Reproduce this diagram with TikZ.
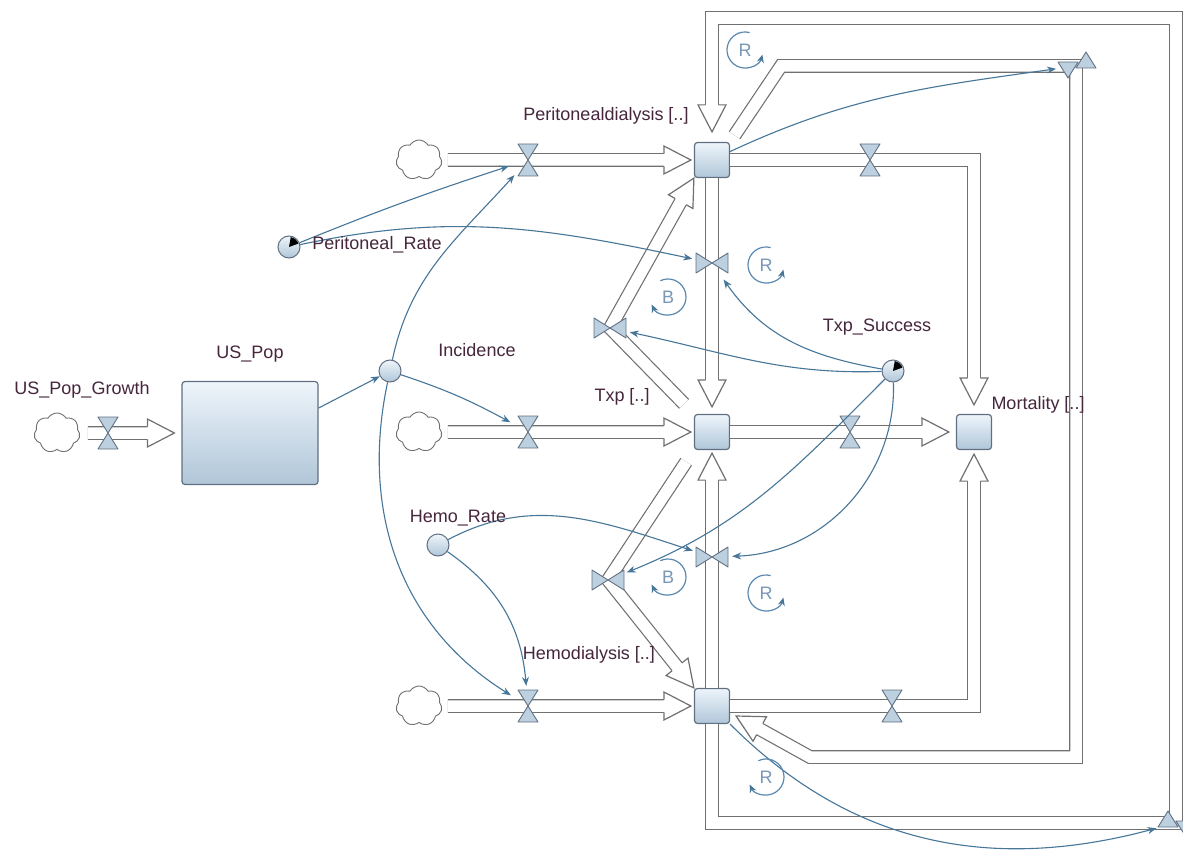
\documentclass[tikz,border=0pt]{standalone}
\usepackage{fontspec}
\setmainfont{Liberation Sans}
\usetikzlibrary{arrows.meta,positioning,shapes.symbols}
\definecolor{pipegray}{RGB}{112,112,112}
\definecolor{linkblue}{RGB}{70,118,152}
\definecolor{labtext}{RGB}{70,38,60}
\definecolor{loopblue}{RGB}{120,150,182}
\definecolor{loopline}{RGB}{90,136,176}
\definecolor{stockedge}{RGB}{96,112,130}
\definecolor{stocktop}{RGB}{238,245,251}
\definecolor{stockbot}{RGB}{176,198,216}
\definecolor{valvefill}{RGB}{188,208,224}
\tikzset{
    %Define style for stocks
    stock/.style={
           rectangle,
           rounded corners=3pt,
           draw=stockedge, line width=1.2pt,
           top color=stocktop, bottom color=stockbot,
           minimum size=35pt, inner sep=0pt},
    %Define style for converters
    aux/.style={
           circle,
           draw=stockedge, line width=1pt,
           top color=stocktop, bottom color=stockbot,
           minimum size=22pt, inner sep=0pt},
    %Define style for clouds
    src/.style={
           cloud, cloud puffs=7, cloud puff arc=120, aspect=1.15,
           draw=pipegray, line width=0.9pt,
           minimum width=46pt, minimum height=40pt, inner sep=0pt},
    %Valve places (links stop at their border)
    valvept/.style={circle, minimum size=40pt, inner sep=0pt},
    % Define pipe style
    pipe/.style={
           draw=pipegray, line width=1.2pt,
           double=white, double distance=11.5pt,
           line join=miter},
    % Define arrow style
    pil/.style={
           draw=linkblue, line width=1.1pt,
           -{Stealth[length=9pt,width=7pt]}},
    lab/.style={text=labtext, font=\fontsize{18}{21}\selectfont, inner sep=0pt},
    looplab/.style={text=loopblue, font=\fontsize{18}{21}\selectfont, inner sep=0pt},
    valvest/.style={draw=stockedge, fill=valvefill, line width=0.9pt, line join=round},
    %Small pictures
    pipehead/.pic={
      \filldraw[draw=pipegray, line width=1.2pt, fill=white, line join=miter]
        (-27pt,6.35pt) -- (-27pt,14pt) -- (0pt,0pt) -- (-27pt,-14pt) -- (-27pt,-6.35pt);},
    valve/.pic={
      \filldraw[valvest] (-10pt,16pt) -- (10pt,16pt) -- (0pt,0pt) -- cycle
                         (-10pt,-16pt) -- (10pt,-16pt) -- (0pt,0pt) -- cycle;},
    cornervalve/.pic={
      \filldraw[valvest] (-18pt,4pt) -- (2pt,4pt) -- (-8pt,-12pt) -- cycle
                         (0pt,-2pt) -- (20pt,-2pt) -- (10pt,14pt) -- cycle;},
    loopccw/.pic={
      \draw[loopline, line width=1.2pt, -{Stealth[length=8pt,width=7pt,color=linkblue]}]
        (75:18pt) arc[start angle=75, end angle=345, radius=18pt];
      \node[looplab] (-t) {#1};},
    loopcw/.pic={
      \draw[loopline, line width=1.2pt, -{Stealth[length=8pt,width=7pt,color=linkblue]}]
        (115:18pt) arc[start angle=115, end angle=-155, radius=18pt];
      \node[looplab] (-t) {#1};}
}

\begin{document}
\begin{tikzpicture}[x=1pt,y=-1pt]
\fill[white] (0,0) rectangle (1183,853);
\useasboundingbox (0,0) rectangle (1183,853);
\clip (0,0) rectangle (1183,853);

% stocks
\node[stock, minimum width=136pt, minimum height=103pt] (uspop) at (250,433) {};
\node[stock] (perit) at (712,160) {};
\node[stock] (txp) at (712,432) {};
\node[stock] (hemo) at (712,706) {};
\node[stock] (mort) at (974,432) {};

% sources
\node[src] (srcGrowth) at (57,433) {};
\node[src] (srcPerit) at (419,160) {};
\node[src] (srcTxp) at (419,432) {};
\node[src] (srcHemo) at (419,706) {};

% converters
\node[aux] (inc) at (390,371) {};
\node[aux] (prate) at (289,247) {};
\node[aux] (hrate) at (438,545) {};
\node[aux] (txps) at (893,371) {};
\fill[black] (prate.center) -- ++(20:10pt) arc[start angle=20, end angle=80, radius=10pt] -- cycle;
\fill[black] (txps.center) -- ++(20:10pt) arc[start angle=20, end angle=80, radius=10pt] -- cycle;

% valves
\node[valvept] (vGrowth) at (108,433) {};
\node[valvept] (vPeritIn) at (528,160) {};
\node[valvept] (vTxpIn) at (528,432) {};
\node[valvept] (vHemoIn) at (528,706) {};
\node[valvept] (vPM) at (870,160) {};
\node[valvept] (vTM) at (850,432) {};
\node[valvept] (vHM) at (892,706) {};
\node[valvept] (vPT) at (712,263) {};
\node[valvept] (vHT) at (712,557) {};
\node[valvept] (vTP) at (610,328) {};
\node[valvept] (vTH) at (608,580) {};
\node[valvept] (vPH) at (1076,66) {};
\node[valvept] (vHP) at (1176,823) {};

% corners of the two long pipes
\coordinate (outBL) at (712,823);
\coordinate (outTR) at (1176,18);
\coordinate (outTL) at (712,18);
\coordinate (inTL) at (781,66);
\coordinate (inBR) at (1076,757);
\coordinate (inBL) at (810,757);
\coordinate (inTip) at ([shift={(6pt,-10pt)}]hemo.east);

% pipes
\draw[pipe, shorten >=35pt] (hemo.south) -- (outBL) -- (vHP.center) -- (outTR) -- (outTL) -- (perit.north);
\pic[rotate=-90] at ([yshift=10pt]perit.north) {pipehead};
\draw[pipe, shorten <=8pt, shorten >=25pt] (perit.north east) -- (inTL) -- (vPH.center) -- (inBR) -- (inBL) -- (inTip);
\pic[rotate=151.2] at (inTip) {pipehead};

\draw[pipe, shorten <=8pt, shorten >=32pt] (srcGrowth.east) -- (uspop.west);
\pic at ([xshift=-7pt]uspop.west) {pipehead};
\draw[pipe, shorten <=6pt, shorten >=28pt] (srcPerit.east) -- (perit.west);
\pic at ([xshift=-3pt]perit.west) {pipehead};
\draw[pipe, shorten <=6pt, shorten >=28pt] (srcTxp.east) -- (txp.west);
\pic at ([xshift=-3pt]txp.west) {pipehead};
\draw[pipe, shorten <=6pt, shorten >=28pt] (srcHemo.east) -- (hemo.west);
\pic at ([xshift=-3pt]hemo.west) {pipehead};

\draw[pipe, shorten >=32pt] (perit.south) -- (txp.north);
\pic[rotate=-90] at ([yshift=7pt]txp.north) {pipehead};
\draw[pipe, shorten >=28pt] (hemo.north) -- (txp.south);
\pic[rotate=90] at ([yshift=-3pt]txp.south) {pipehead};
\draw[pipe, shorten <=14pt, shorten >=25pt] (txp.north west) -- (vTP.center) -- (perit.south west);
\pic[rotate=60.7] at (perit.south west) {pipehead};
\draw[pipe, shorten <=14pt, shorten >=25pt] (txp.south west) -- (vTH.center) -- (hemo.north west);
\pic[rotate=-51.4] at (hemo.north west) {pipehead};

\draw[pipe, shorten >=34pt] (perit.east) -- (perit.east -| mort.north) -- (mort.north);
\pic[rotate=-90] at ([yshift=9pt]mort.north) {pipehead};
\draw[pipe, shorten >=32pt] (txp.east) -- (mort.west);
\pic at ([xshift=-7pt]mort.west) {pipehead};
\draw[pipe, shorten >=29pt] (hemo.east) -- (hemo.east -| mort.south) -- (mort.south);
\pic[rotate=90] at ([yshift=-4pt]mort.south) {pipehead};

% valve shapes
\pic at (vGrowth) {valve};
\pic at (vPeritIn) {valve};
\pic at (vTxpIn) {valve};
\pic at (vHemoIn) {valve};
\pic at (vPM) {valve};
\pic at (vTM) {valve};
\pic at (vHM) {valve};
\pic[rotate=90] at (vPT) {valve};
\pic[rotate=90] at (vHT) {valve};
\pic[rotate=90] at (vTP) {valve};
\pic[rotate=90] at (vTH) {valve};
\pic at (vPH) {cornervalve};
\pic[yscale=-1] at (vHP) {cornervalve};

% links
\draw[pil] (uspop.20) -- (inc);
\draw[pil] (inc) to[bend left=5] (vTxpIn);
\draw[pil] (inc) to[out=78, in=228] (vPeritIn);
\draw[pil] (prate) to[bend left=2] (vPeritIn);
\draw[pil] (prate) to[out=12, in=168] (vPT);
\draw[pil] (inc) to[out=-102, in=148] (vHemoIn);
\draw[pil] (hrate) to[out=-35, in=95] (vHemoIn);
\draw[pil] (hrate) to[out=28, in=162] (vHT);
\draw[pil] (txps) to[out=182, in=-12] (vTP);
\draw[pil] (txps) to[out=170, in=-55] (vPT);
\draw[pil] (txps) to[out=-135, in=22] (vTH);
\draw[pil] (txps) to[out=-88, in=2] (vHT);
\draw[pil] (perit) to[out=25, in=188] (vPH);
\draw[pil] (hemo) to[out=-45, in=195] (vHP);

% loop signs
\pic (lpTop) at (745,50) {loopccw=R};
\pic (lpPT) at (766,265) {loopccw=R};
\pic (lpBTop) at (668,297) {loopcw=B};
\pic (lpBBot) at (668,577) {loopcw=B};
\pic (lpHT) at (766,593) {loopccw=R};
\pic (lpBot) at (766,777) {loopcw=R};

% labels
\node[lab] (lGrowth) at (82,390) {US\_Pop\_Growth};
\node[lab, above=18pt of uspop] (lUSPop) {US\_Pop};
\node[lab] (lPRate) at (377,245) {Peritoneal\_Rate};
\node[lab] (lInc) at (477,350) {Incidence};
\node[lab] (lPerit) at (606,116) {Peritonealdialysis [..]};
\node[lab] (lTxp) at (622,397) {Txp [..]};
\node[lab] (lTxpS) at (877,327) {Txp\_Success};
\node[lab] (lMort) at (1038,405) {Mortality [..]};
\node[lab] (lHRate) at (458,518) {Hemo\_Rate};
\node[lab] (lHemo) at (589,655) {Hemodialysis [..]};
\end{tikzpicture}
\end{document}
